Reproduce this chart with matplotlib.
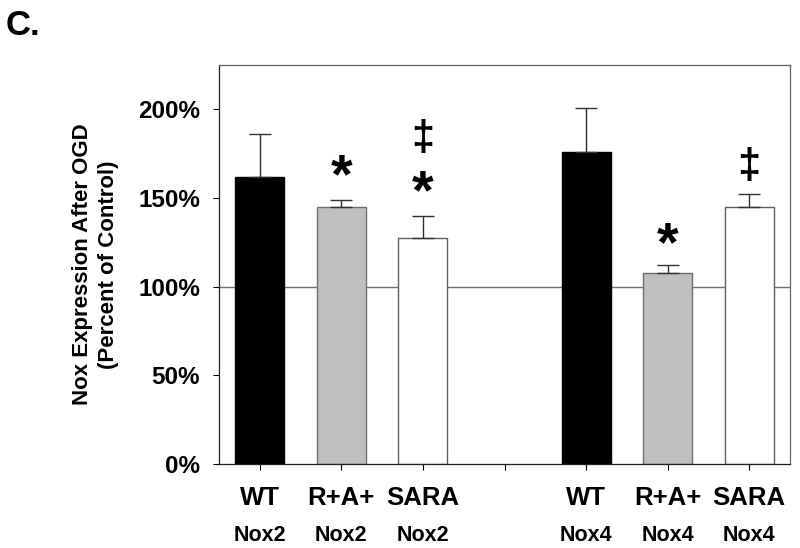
import matplotlib
matplotlib.use("Agg")
import matplotlib.pyplot as plt
import matplotlib.transforms as mtransforms

plt.rcParams["font.family"] = ["Liberation Sans", "DejaVu Sans"]
plt.rcParams["font.weight"] = "bold"

# data (percent of control)
groups = ["WT", "R+A+", "SARA", "", "WT", "R+A+", "SARA"]
genes = ["Nox2", "Nox2", "Nox2", "", "Nox4", "Nox4", "Nox4"]
bar_pos = [0, 1, 2, 4, 5, 6]
means = [162, 145, 127.5, 176, 107.5, 145]
err_up = [24, 3.6, 12.5, 25, 4.5, 7.5]
fills = ["black", "#c0c0c0", "white", "black", "#c0c0c0", "white"]
edges = ["black", "#6e6e6e", "#606060", "black", "#6e6e6e", "#606060"]

# significance marks: (position, symbol, y)
marks_pos = [1, 2, 2, 5, 6]
marks_sym = ["*", "*", "\u2021", "*", "\u2021"]
marks_y = [161, 152, 183, 123, 167.5]

fig = plt.figure(figsize=(8, 5.48), dpi=100)
ax = fig.add_axes([0.27375, 0.1533, 0.71375, 0.7281])

ax.axhline(100, color="#707070", lw=1.0, zorder=1)

ax.bar(bar_pos, means, width=0.6, color=fills, edgecolor=edges, linewidth=1.0, zorder=2)
ax.errorbar(bar_pos, means, yerr=[[0] * len(means), err_up], fmt="none",
            ecolor="#303030", elinewidth=1.0, capsize=8, capthick=1.0, zorder=3)

for p, s, y in zip(marks_pos, marks_sym, marks_y):
    if s == "*":
        ax.text(p, y, s, ha="center", va="center", fontsize=40, fontweight="bold")
    else:
        ax.text(p, y, s, ha="center", va="center", fontsize=30, fontweight="bold")

ax.set_xlim(-0.5, 6.5)
ax.set_ylim(0, 225)
ax.set_yticks([0, 50, 100, 150, 200])
ax.set_yticklabels(["0%", "50%", "100%", "150%", "200%"])
ax.set_xticks(range(len(groups)))
ax.set_xticklabels([])
ax.tick_params(axis="y", direction="out", length=4.5, width=0.8, pad=9, labelsize=17.5)
ax.tick_params(axis="x", direction="out", length=4.5, width=0.8)

trans = mtransforms.blended_transform_factory(ax.transData, ax.transAxes)
for i, (g, n) in enumerate(zip(groups, genes)):
    ax.text(i, -0.085, g, transform=trans, ha="center", va="center", fontsize=18.5, fontweight="bold")
    ax.text(i, -0.180, n, transform=trans, ha="center", va="center", fontsize=15.5, fontweight="bold")

ax.set_ylabel("Nox Expression After OGD\n(Percent of Control)", fontsize=16,
              fontweight="bold", linespacing=1.3)
ax.yaxis.set_label_coords(-0.175, 0.5)

for sp in ["left", "bottom"]:
    ax.spines[sp].set_color("#202020")
    ax.spines[sp].set_linewidth(0.9)
for sp in ["top", "right"]:
    ax.spines[sp].set_color("#606060")
    ax.spines[sp].set_linewidth(0.9)

fig.text(0.029, 0.953, "C.", fontsize=25, fontweight="bold", ha="center", va="center")

fig.savefig("out.png", dpi=100)
